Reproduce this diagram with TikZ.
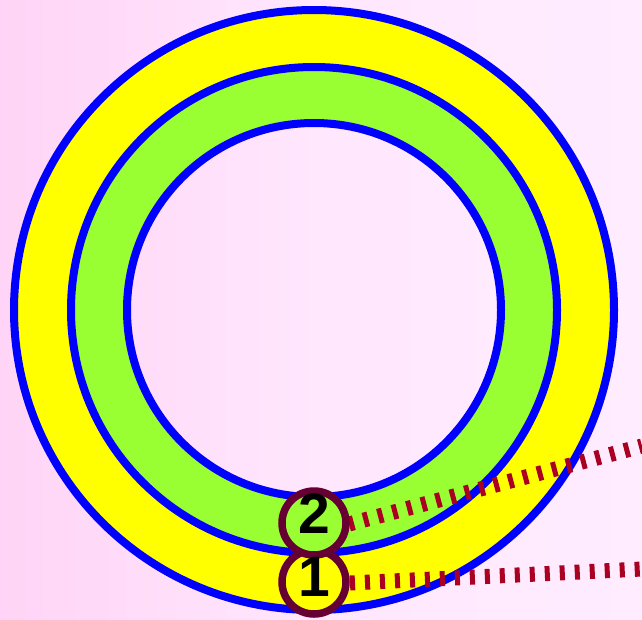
\documentclass[tikz,border=0pt]{standalone}
\usepackage{fontspec}
\setmainfont{Liberation Sans}
\definecolor{bgl}{RGB}{255,212,246}
\definecolor{bgr}{RGB}{255,236,255}
\definecolor{ringblue}{RGB}{0,0,255}
\definecolor{ringyellow}{RGB}{255,255,0}
\definecolor{ringgreen}{RGB}{153,255,51}
\definecolor{badgec}{RGB}{102,0,51}
\definecolor{dashc}{RGB}{170,0,34}
\begin{document}
\begin{tikzpicture}[x=1pt,y=-1pt,
  ring/.style={draw=ringblue, line width=8pt},
  badge/.style={circle, draw=badgec, line width=7.5pt, minimum size=64pt, inner sep=0pt},
  num/.style={font=\bfseries\fontsize{57}{57}\selectfont, text=black, inner sep=0pt},
  leader/.style={draw=dashc, line width=15pt, dash pattern=on 5pt off 10pt}]
\useasboundingbox (0,0) rectangle (642,619);
\shade[left color=bgl, right color=bgr, middle color=bgr!80!bgl] (0,0) rectangle (642,619);
% rings
\fill[ringyellow, even odd rule] (314,310) circle (300pt) (314,310) circle (243pt);
\fill[ringgreen, even odd rule] (314,310) circle (243pt) (314,310) circle (187pt);
\draw[ring] (314,310) circle (300pt);
\draw[ring] (314,310) circle (243pt);
\draw[ring] (314,310) circle (187pt);
% badge anchors
\coordinate (c2) at (314,523);
\coordinate (c1) at (314,582);
\coordinate (e2) at (642,446);
\coordinate (e1) at (642,569);
% leaders
\draw[leader] ([xshift=35pt,yshift=-1pt]c2) -- (e2);
\draw[leader] ([xshift=36pt,yshift=-1pt]c1) -- (e1);
% badges
\node[badge, fill=ringyellow] (b1) at (c1) {};
\node[badge, fill=ringgreen] (b2) at (c2) {};
\node[num] (t2) at ([yshift=9pt]b2.center) {2};
\node[num] (t1) at ([yshift=5pt]b1.center) {1};
\end{tikzpicture}
\end{document}
